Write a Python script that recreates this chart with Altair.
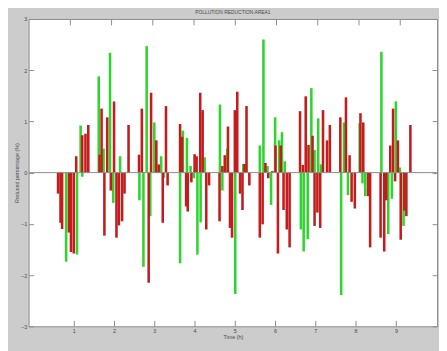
import altair as alt
import pandas as pd

# ---- data ----
green_t = [0.81, 1.08, 1.17, 1.21, 1.62, 1.74, 1.90, 1.98, 2.15, 2.63, 2.73, 2.81, 2.90, 3.00,
           3.17, 3.24, 3.64, 3.71, 3.81, 3.90, 3.98, 4.07, 4.15, 4.25, 4.63, 4.69, 4.81, 5.01,
           5.21, 5.62, 5.71, 5.81, 5.90, 6.00, 6.10, 6.17, 6.24, 6.64, 6.71, 6.81, 6.90, 6.98,
           7.07, 7.14, 7.64, 7.71, 7.81, 8.10, 8.17, 8.24, 8.64, 8.81, 8.90, 9.00, 9.10, 9.19]
green_v = [-1.74, -1.60, 0.92, -0.08, 1.88, 0.47, 2.34, -0.59, 0.32, -0.54, -1.84, 2.47, -0.85, 0.98,
           0.32, -0.10, -1.77, 0.82, 0.68, 0.13, -0.11, -1.60, -0.97, 0.30, 1.33, -0.35, 0.47, -2.37,
           0.17, 0.53, 2.60, 0.13, -0.63, 1.08, 0.63, 0.79, 0.22, -1.11, -1.54, -1.30, 1.65, 0.44,
           1.06, 0.16, -2.39, 0.98, -0.44, 0.97, -0.21, -0.46, 2.36, -1.20, -0.51, 1.39, 0.10, -1.04]

red_t = [0.61, 0.67, 0.71, 0.88, 0.93, 1.00, 1.06, 1.21, 1.29, 1.36, 1.64, 1.69, 1.76, 1.83,
         1.92, 2.00, 2.06, 2.12, 2.20, 2.26, 2.36, 2.62, 2.69, 2.86, 2.92, 3.05, 3.11, 3.21,
         3.29, 3.33, 3.64, 3.69, 3.79, 3.83, 3.92, 4.00, 4.05, 4.14, 4.20, 4.29, 4.36, 4.62,
         4.69, 4.75, 4.83, 4.88, 4.93, 5.00, 5.06, 5.13, 5.19, 5.24, 5.29, 5.36, 5.62, 5.69,
         5.76, 5.83, 5.93, 6.01, 6.07, 6.14, 6.21, 6.29, 6.36, 6.62, 6.69, 6.76, 6.83, 6.93,
         6.98, 7.05, 7.12, 7.19, 7.29, 7.36, 7.62, 7.76, 7.85, 7.90, 7.98, 8.12, 8.19, 8.31,
         8.36, 8.62, 8.71, 8.76, 8.86, 8.93, 8.98, 9.05, 9.12, 9.21, 9.26, 9.36]
red_v = [-0.41, -0.98, -1.10, -1.17, -1.55, -1.58, 0.32, 0.73, 0.76, 0.93, 0.35, 1.25, -1.23, 1.08,
         -0.35, 1.39, -1.27, -1.03, -0.95, -0.41, 0.93, 0.35, 1.25, -2.15, 1.56, 0.63, 0.16, -0.98,
         1.30, -0.25, 0.95, 0.70, -0.66, -0.76, -0.19, 0.36, 0.32, 1.56, 1.22, -1.11, -0.25, -0.95,
         0.13, 0.34, 0.90, -1.08, -1.27, 1.22, 1.58, -0.41, -0.73, 0.17, 1.30, -0.25, -1.27, -1.01,
         0.19, -0.11, 0.03, 0.53, -1.58, 0.53, -0.73, -1.11, -1.46, 1.20, 0.15, 1.49, 0.54, 0.72,
         -1.04, -0.78, -1.08, 1.22, 0.63, 0.93, 1.08, 1.47, 0.34, -0.57, -0.70, 1.16, 0.98, -0.46,
         -1.46, -1.27, -1.54, -0.54, 0.53, 1.25, -0.17, 0.63, -1.31, -0.74, -0.85, 0.93]

x_ticks = [1, 2, 3, 4, 5, 6, 7, 8, 9]
y_ticks = [-3, -2, -1, 0, 1, 2, 3]
baseline = [0]

title_text = "POLLUTION REDUCTION AREA1"
x_title = "Time (h)"
y_title = "Reduced percentage (%)"

# ---- styles ----
GREEN = "#2fd52f"
RED = "#c41c1c"
FRAME = "#8c8c8c"
TXT = "#4a4a4a"
BG = "#cccccc"
FONT = "Liberation Sans"
FS = 5.5

dg = pd.DataFrame({"t": green_t, "v": green_v})
dr = pd.DataFrame({"t": red_t, "v": red_v})
dz = pd.DataFrame({"z": baseline})

xs = alt.Scale(domain=[0, 9.9], nice=False, zero=False)
ys = alt.Scale(domain=[-3, 3], nice=False, zero=False)

ax_bottom = alt.Axis(orient="bottom", values=x_ticks, offset=-6, tickSize=6, domain=False,
                     grid=False, labelPadding=2, labelFontSize=FS, labelColor=TXT,
                     labelFont=FONT, tickColor=FRAME, title=x_title, titleFontSize=FS,
                     titleFont=FONT, titleFontWeight="normal", titleColor=TXT, titlePadding=1)
ax_left = alt.Axis(orient="left", values=y_ticks, offset=-5, tickSize=5, domain=False,
                   grid=False, labelPadding=2, labelFontSize=FS, labelColor=TXT,
                   labelFont=FONT, tickColor=FRAME, title=y_title, titleFontSize=FS,
                   titleFont=FONT, titleFontWeight="normal", titleColor=TXT, titlePadding=1)
ax_top = alt.Axis(orient="top", values=x_ticks, offset=-6, tickSize=6, domain=False,
                  grid=False, labels=False, tickColor=FRAME, title=None)
ax_right = alt.Axis(orient="right", values=y_ticks, offset=-5, tickSize=5, domain=False,
                    grid=False, labels=False, tickColor=FRAME, title=None)

g = alt.Chart(dg).mark_bar(size=2.6, color=GREEN).encode(
    x=alt.X("t:Q", scale=xs, axis=ax_bottom),
    y=alt.Y("v:Q", scale=ys, axis=ax_left),
)
r = alt.Chart(dr).mark_bar(size=2.6, color=RED).encode(
    x=alt.X("t:Q", scale=xs, axis=None),
    y=alt.Y("v:Q", scale=ys, axis=None),
)
zero = alt.Chart(dz).mark_rule(color="#8a8a8a", strokeWidth=1).encode(
    y=alt.Y("z:Q", scale=ys, axis=None),
)
ghost = alt.Chart(dg).mark_point(opacity=0).encode(
    x=alt.X("t:Q", scale=xs, axis=ax_top),
    y=alt.Y("v:Q", scale=ys, axis=ax_right),
)

chart = alt.layer(g, r, zero, ghost).resolve_scale(
    x="independent", y="independent"
).properties(
    width=416,
    height=313,
    padding={"left": 21, "top": 8, "right": 2, "bottom": 22},
    autosize=alt.AutoSizeParams(type="none"),
    background=BG,
    title=alt.TitleParams(title_text, fontSize=5, fontWeight="normal", color=TXT,
                          font=FONT, offset=2),
).configure_view(fill="white", stroke=FRAME, strokeWidth=1)

chart.save("out.html", embed_options={"renderer": "svg", "actions": False})
